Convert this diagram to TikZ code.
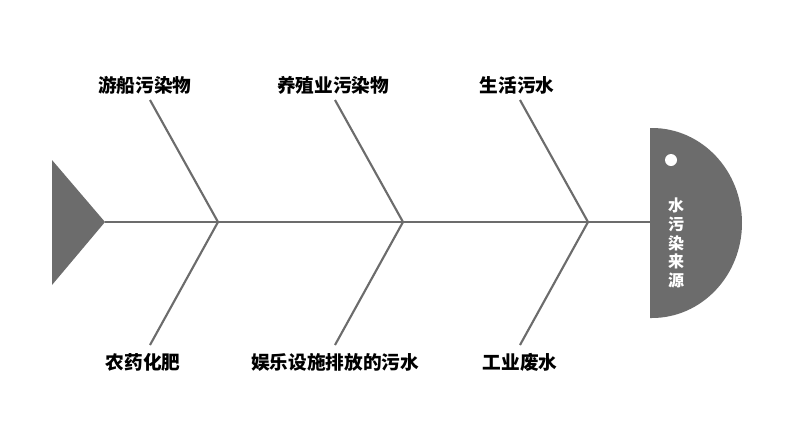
\documentclass[tikz,border=0pt]{standalone}
\usepackage{fontspec}
\newfontfamily\cjk{Noto Sans CJK SC}
\begin{document}
\begin{tikzpicture}[x=0.75pt,y=-0.75pt,
  bone/.style={draw=gray!85!black,line width=1.6pt},
  lbl/.style={font=\cjk\bfseries\fontsize{14}{16}\selectfont,text=black}]
\useasboundingbox (0,0) rectangle (794,447);
\fill[gray!85!black] (52,160) -- (52,285) -- (105,222) -- cycle;
\coordinate (tail) at (105,222);
\coordinate (headl) at (650,222);
\fill[gray!85!black] (650,128) -- (652,128) arc[start angle=-90,end angle=90,x radius=90,y radius=95] -- (650,318) -- cycle;
\fill[white] (671,160) circle (6);
\node[font=\cjk\bfseries\fontsize{12}{14}\selectfont,text=white,align=center,inner sep=0] (head) at (676,243) {水\\污\\染\\来\\源};
\draw[bone] (tail) -- (headl);
\foreach \n/\x in {a/218,b/403,c/588}{
  \coordinate (j\n) at (\x,222);
  \coordinate (u\n) at (\x-68,100);
  \coordinate (d\n) at (\x-68,345);
  \draw[bone] (u\n) -- (j\n) -- (d\n);
}
\node[lbl] (t1) at (145,85) {游船污染物};
\node[lbl] (t2) at (333,85) {养殖业污染物};
\node[lbl] (t3) at (517,85) {生活污水};
\node[lbl] (b1) at (143,362) {农药化肥};
\node[lbl] (b2) at (335,362) {娱乐设施排放的污水};
\node[lbl] (b3) at (520,362) {工业废水};
\end{tikzpicture}
\end{document}
